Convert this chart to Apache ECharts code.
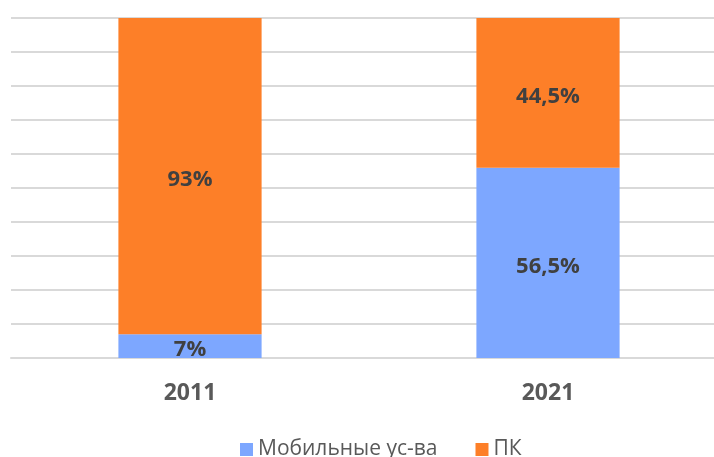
<!DOCTYPE html>
<html>
<head>
<meta charset="utf-8">
<script src="https://cdn.jsdelivr.net/npm/echarts@6/dist/echarts.min.js"></script>
<style>
  html, body { margin: 0; padding: 0; background: #fff; }
  #chart { width: 714px; height: 457px; }
</style>
</head>
<body>
<div id="chart"></div>
<script>
const categories = ["2011", "2021"];
const mobileValues = [7, 56.5];
const pcValues = [93, 44.5];
const seriesNames = ["Мобильные ус-ва", "ПК"];

// 100% stacked: each column is scaled to its own total
const totals = categories.map((c, i) => mobileValues[i] + pcValues[i]);
const share = (arr) => arr.map((v, i) => ({ value: v / totals[i] * 100, raw: v }));

const fmt = (p) => String(p.data.raw).replace(".", ",") + "%";

const labelStyle = {
  show: true,
  position: "inside",
  offset: [0, 4],
  formatter: fmt,
  color: "#404040",
  fontWeight: "bold",
  fontSize: 22,
  fontFamily: "Open Sans"
};

const chart = echarts.init(document.getElementById("chart"));
chart.setOption({
  animation: false,
  grid: { left: 11, width: 716, top: 18, bottom: 99, outerBoundsMode: "none" },
  legend: {
    bottom: -8,
    left: 235,
    itemWidth: 13,
    itemHeight: 13,
    itemGap: 38,
    icon: "rect",
    textStyle: { color: "#595959", fontSize: 21, fontFamily: "Open Sans" },
    data: seriesNames
  },
  xAxis: {
    type: "category",
    data: categories,
    axisLine: { lineStyle: { color: "#d9d9d9", width: 2 } },
    axisTick: { show: false },
    axisLabel: {
      color: "#595959",
      fontWeight: "bold",
      fontSize: 23,
      fontFamily: "Open Sans",
      margin: 24
    }
  },
  yAxis: {
    type: "value",
    min: 0,
    max: 100,
    interval: 10,
    axisLabel: { show: false },
    axisLine: { show: false },
    axisTick: { show: false },
    splitLine: { lineStyle: { color: "#d9d9d9", width: 2 } }
  },
  series: [
    {
      name: seriesNames[0],
      type: "bar",
      stack: "total",
      barWidth: "40%",
      itemStyle: { color: "#7DA7FF" },
      label: labelStyle,
      data: share(mobileValues)
    },
    {
      name: seriesNames[1],
      type: "bar",
      stack: "total",
      barWidth: "40%",
      itemStyle: { color: "#FD7F28" },
      label: labelStyle,
      data: share(pcValues)
    }
  ]
});
</script>
</body>
</html>
